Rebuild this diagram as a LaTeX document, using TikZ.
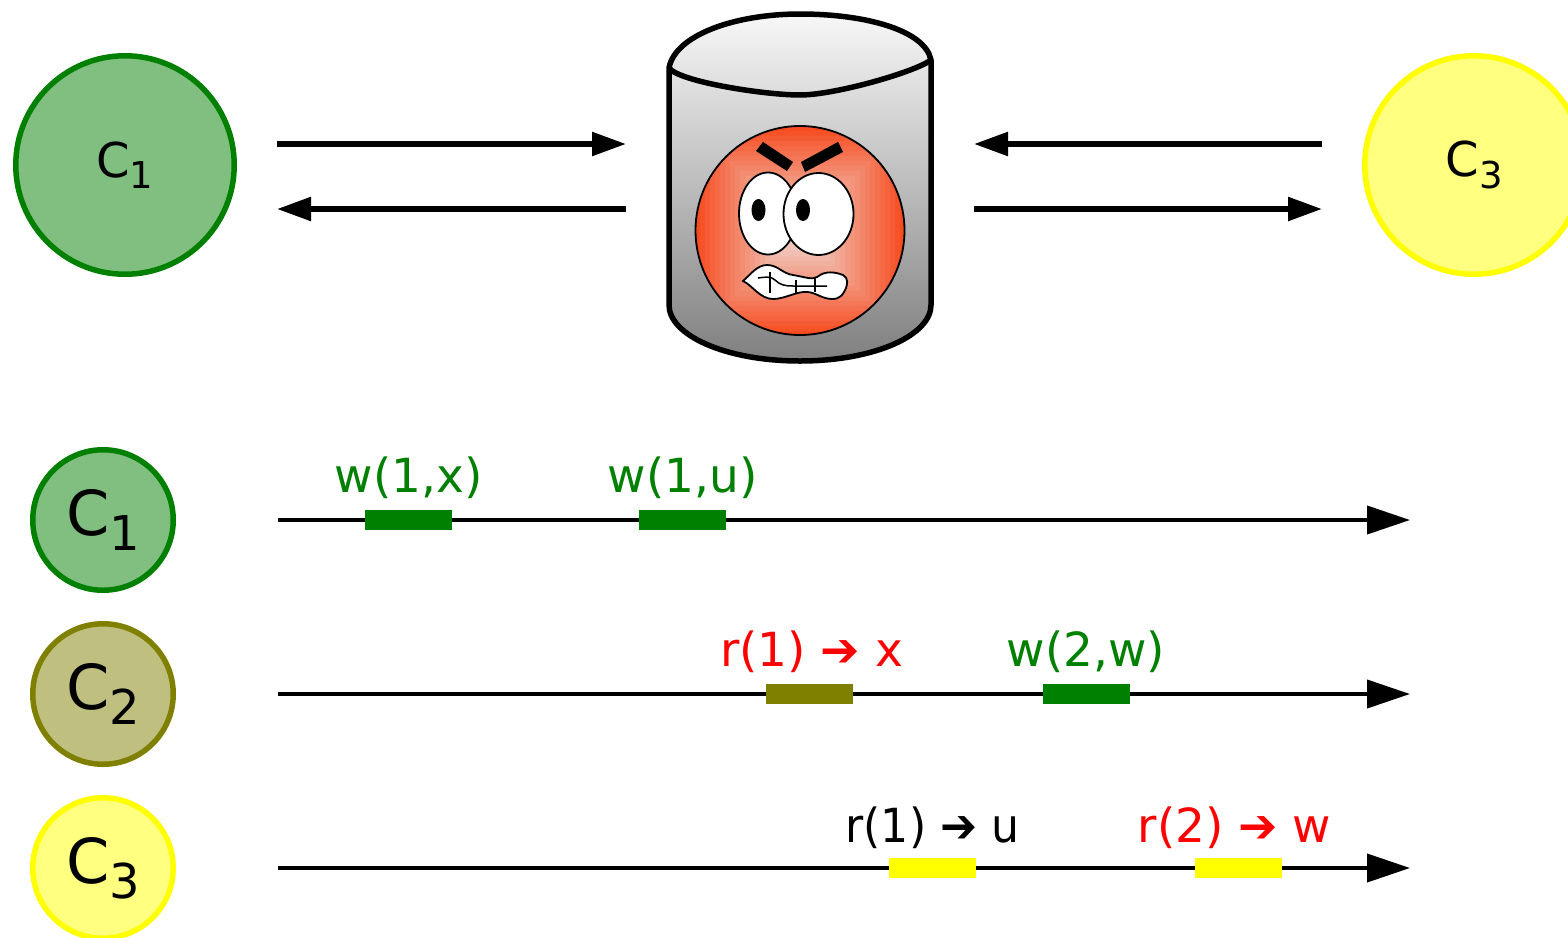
\documentclass[tikz,border=0pt]{standalone}
\usepackage{fontspec}
\setmainfont{DejaVu Sans}
\usetikzlibrary{arrows.meta}
\usetikzlibrary{positioning}
\definecolor{facered}{RGB}{246,76,32}
\definecolor{facepale}{RGB}{240,196,184}
\definecolor{cgreen}{RGB}{0,128,0}
\definecolor{colive}{RGB}{128,128,0}
\definecolor{cyellow}{RGB}{255,255,0}
\newcommand{\clabel}[2]{\raisebox{-2pt}{C\raisebox{-0.24em}{\fontsize{#2}{#2}\selectfont #1}}}
\tikzstyle{client}   = [circle, line width=5.5pt, inner sep=0pt]
\tikzstyle{bigc}     = [client, minimum size=218.5pt, font=\fontsize{48}{48}\selectfont]
\tikzstyle{smallc}   = [client, minimum size=140.5pt, font=\fontsize{62}{62}\selectfont]
\tikzstyle{cg}       = [draw=cgreen, fill=cgreen!50]
\tikzstyle{co}       = [draw=colive, fill=colive!50]
\tikzstyle{cy}       = [draw=cyellow, fill=cyellow!50]
\tikzstyle{msg}      = [draw, line width=5.5pt, -{Triangle[length=34pt,width=23pt]}]
\tikzstyle{timeline} = [draw, line width=4pt, -{Triangle[length=43pt,width=28pt]}]
\tikzstyle{op}       = [rectangle, minimum width=87pt, minimum height=19.5pt, inner sep=0pt]
\tikzstyle{oplabel}  = [inner sep=0pt, font=\fontsize{47}{48}\selectfont, text height=36pt, text depth=9pt]
\begin{document}
\begin{tikzpicture}[x=1pt, y=-1pt]
        \useasboundingbox (0,0) rectangle (1568,937);
        % clients on top
        \node [bigc, cg] (top1) at (125,165) {\clabel{1}{37}};
        \node [bigc, cy] (top3) at (1474,165) {\clabel{3}{37}};
        % store
        \path [top color=black!3, bottom color=black!50]
            (669,68) .. controls (675,35) and (735,14) .. (800,14) .. controls (865,14) and (925,30) .. (931,60)
            -- (931,305) .. controls (931,335) and (875,361) .. (800,361) .. controls (725,361) and (669,335) .. (669,305) -- cycle;
        \draw [line width=5.5pt, line join=round]
            (669,68) .. controls (675,35) and (735,14) .. (800,14) .. controls (865,14) and (925,30) .. (931,60)
            -- (931,305) .. controls (931,335) and (875,361) .. (800,361) .. controls (725,361) and (669,335) .. (669,305) -- cycle;
        \draw [line width=5.5pt] (669,68) .. controls (680,82) and (765,95) .. (800,95) .. controls (835,95) and (915,72) .. (931,60);
        % face
        \begin{scope}
            \clip (800,230.5) circle [radius=104.5];
            \foreach \s in {0,...,20} {
                \pgfmathsetmacro{\mixval}{min(100,\s*6)}
                \pgfmathsetmacro{\half}{105-\s*5}
                \fill [facepale!\mixval!facered] (800-\half,230.5-\half) rectangle (800+\half,230.5+\half);
            }
        \end{scope}
        \draw [line width=1.8pt] (800,230.5) circle [radius=104.5];
        \fill (756,151) -- (763,142) -- (793,162) -- (787,171) -- cycle;
        \fill (801,162) -- (838,142) -- (843,152) -- (805,172) -- cycle;
        \draw [line width=1.8pt, fill=white] (768,213.5) ellipse [x radius=29, y radius=41];
        \draw [line width=1.8pt, fill=white] (818.5,214) ellipse [x radius=35, y radius=41];
        \fill (758.5,210) ellipse [x radius=7, y radius=11];
        \fill (803,210) ellipse [x radius=7, y radius=11];
        \draw [line width=1.8pt, fill=white] (743,281) .. controls (750,275) and (757,265) .. (767,265)
            .. controls (778,265) and (783,274) .. (793,275) .. controls (805,277) and (812,280) .. (817,277)
            .. controls (822,273) and (830,270) .. (843,275) .. controls (849,278) and (847,285) .. (846,288)
            .. controls (843,295) and (840,299) .. (832,299) .. controls (822,299) and (815,292) .. (807,292)
            .. controls (797,291) and (785,299) .. (773,299) .. controls (760,299) and (752,285) .. (743,281) -- cycle;
        \draw [line width=1.5pt] (758,278) .. controls (765,277) and (771,276) .. (775,280) .. controls (780,285) and (785,286) .. (793,286) -- (827,286);
        \draw [line width=1.5pt] (770,272) -- (770,293);
        \draw [line width=1.5pt] (796,280) -- (796,293);
        \draw [line width=1.5pt] (815,278) -- (815,292);
        % messages
        \coordinate (la) at (277,144);
        \coordinate (lb) at (626,144);
        \coordinate (lc) at (626,209);
        \coordinate (ld) at (277,209);
        \coordinate (ra) at (1322,144);
        \coordinate (rb) at (974,144);
        \coordinate (rc) at (974,209);
        \coordinate (rd) at (1322,209);
        \path [msg] (la) -- (lb);
        \path [msg] (lc) -- (ld);
        \path [msg] (ra) -- (rb);
        \path [msg] (rc) -- (rd);
        % clients with their timelines
        \node [smallc, cg] (c1) at (103,520) {\clabel{1}{48}};
        \node [smallc, co] (c2) at (103,694) {\clabel{2}{48}};
        \node [smallc, cy] (c3) at (103,868) {\clabel{3}{48}};
        \coordinate (s1) at (278,520);
        \coordinate (s2) at (278,694);
        \coordinate (s3) at (278,868);
        \coordinate (e1) at (1410,520);
        \coordinate (e2) at (1410,694);
        \coordinate (e3) at (1410,868);
        \path [timeline] (s1) -- (e1);
        \path [timeline] (s2) -- (e2);
        \path [timeline] (s3) -- (e3);
        \node [op, fill=cgreen] (a1) at (408.5,520) {};
        \node [op, fill=cgreen] (a2) at (682.5,520) {};
        \node [op, fill=colive] (b1) at (809.5,694) {};
        \node [op, fill=cgreen] (b2) at (1086,694) {};
        \node [op, fill=cyellow] (d1) at (932.5,868) {};
        \node [op, fill=cyellow] (d2) at (1238.5,868) {};
        \node [oplabel, above=8pt of a1, text=cgreen] (ta1) {w(1,x)};
        \node [oplabel, above=8pt of a2, text=cgreen] (ta2) {w(1,u)};
        \node [oplabel, above=8pt of b1, xshift=2pt, text=red] (tb1) {r(1) ➔ x};
        \node [oplabel, above=8pt of b2, text=cgreen] (tb2) {w(2,w)};
        \node [oplabel, above=6pt of d1] (td1) {\scalebox{.94}[1]{r(1) ➔ u}};
        \node [oplabel, above=6pt of d2, xshift=-4pt, text=red] (td2) {r(2) ➔ w};
\end{tikzpicture}
\end{document}
